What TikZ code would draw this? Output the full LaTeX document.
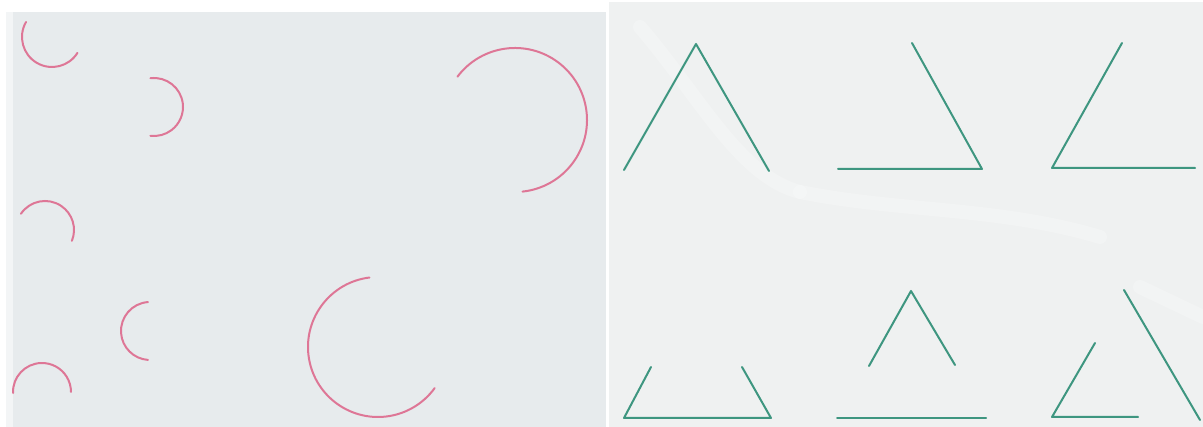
\documentclass[tikz,border=0pt]{standalone}
\usepackage{tikz}

\definecolor{sheetgrey}{RGB}{231,235,237}
\definecolor{sheetlight}{RGB}{239,241,241}
\definecolor{arcpink}{RGB}{222,118,150}
\definecolor{segteal}{RGB}{62,150,128}

\begin{document}
\begin{tikzpicture}[
  x=1pt, y=1pt,
  sheet/.style={fill=#1, draw=none},
  crease/.style={white, line width=14pt, opacity=0.22, line cap=round},
  arcline/.style={arcpink, line width=2pt, line cap=round},
  segline/.style={segteal, line width=2pt, line cap=round, line join=round}
]
\useasboundingbox (0,0) rectangle (1203,427);
\fill[white] (0,0) rectangle (1203,427);

% two sheets of paper
\fill[sheet=sheetgrey] (6,0) rectangle (606,415);
\fill[sheet=sheetlight] (609,0) rectangle (1203,425);
\fill[white, opacity=0.5] (6,0) rectangle (13,415);
\draw[crease] (640,400) .. controls (700,330) and (740,250) .. (800,235);
\draw[crease] (800,235) .. controls (900,215) and (1000,220) .. (1100,190);
\draw[crease] (1140,140) -- (1203,110);

% centres of the arcs
\coordinate (c1) at (52,390);
\coordinate (c2) at (154,320);
\coordinate (c3) at (45,197);
\coordinate (c4) at (150,96);
\coordinate (c5) at (42,35);
\coordinate (c6) at (515,307);
\coordinate (c7) at (378,80);

\draw[arcline] ([shift={(150:30)}]c1) arc[start angle=150, end angle=328, radius=30];
\draw[arcline] ([shift={(97:29)}]c2) arc[start angle=97, end angle=-97, radius=29];
\draw[arcline] ([shift={(146:29)}]c3) arc[start angle=146, end angle=-22, radius=29];
\draw[arcline] ([shift={(94:29)}]c4) arc[start angle=94, end angle=266, radius=29];
\draw[arcline] ([shift={(182:29)}]c5) arc[start angle=182, end angle=0, radius=29];
\draw[arcline] ([shift={(143:72)}]c6) arc[start angle=143, end angle=-84, radius=72];
\draw[arcline] ([shift={(97:70)}]c7) arc[start angle=97, end angle=324, radius=70];

% corners of the broken triangles
\coordinate (a1) at (624,257);
\coordinate (a2) at (696,383);
\coordinate (a3) at (769,256);
\coordinate (b1) at (838,258);
\coordinate (b2) at (982,258);
\coordinate (b3) at (912,384);
\coordinate (d1) at (1122,384);
\coordinate (d2) at (1052,259);
\coordinate (d3) at (1195,259);
\coordinate (e1) at (651,60);
\coordinate (e2) at (624,9);
\coordinate (e3) at (771,9);
\coordinate (e4) at (742,60);
\coordinate (f1) at (869,61);
\coordinate (f2) at (911,136);
\coordinate (f3) at (955,62);
\coordinate (f4) at (837,9);
\coordinate (f5) at (986,9);
\coordinate (g1) at (1095,84);
\coordinate (g2) at (1052,10);
\coordinate (g3) at (1138,10);
\coordinate (g4) at (1124,137);
\coordinate (g5) at (1200,7);

\draw[segline] (a1) -- (a2) -- (a3);
\draw[segline] (b3) -- (b2) -- (b1);
\draw[segline] (d1) -- (d2) -- (d3);
\draw[segline] (e1) -- (e2) -- (e3) -- (e4);
\draw[segline] (f1) -- (f2) -- (f3);
\draw[segline] (f4) -- (f5);
\draw[segline] (g1) -- (g2) -- (g3);
\draw[segline] (g4) -- (g5);

\end{tikzpicture}
\end{document}
